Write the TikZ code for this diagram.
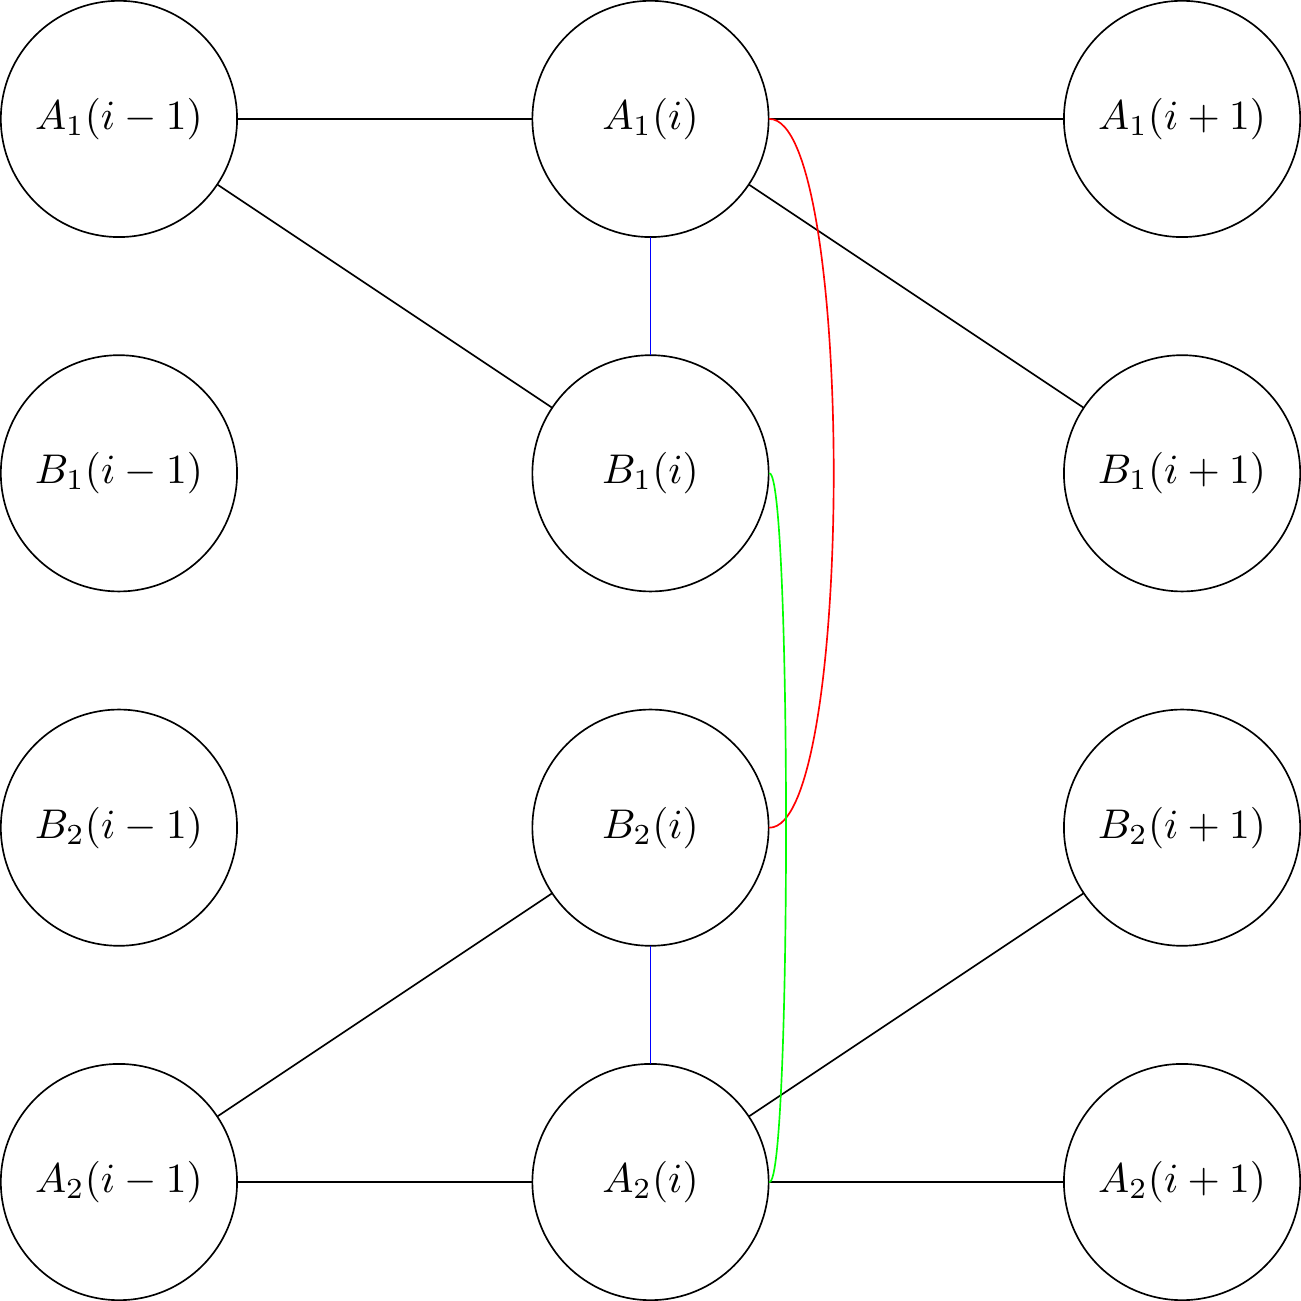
\documentclass[tikz,border=0pt]{standalone}
\usetikzlibrary{positioning}

\tikzset{
  site/.style={draw, circle, minimum size=2cm, inner sep=0pt},
  bond/.style={black},
}

\begin{document}
\begin{tikzpicture}[line cap=round, line join=round]

% -----------------------
% Parameters
% -----------------------
\def\dx{4.5}   % horizontal spacing of columns
\def\dy{3}     % vertical spacing of rows

% -----------------------
% Sites: columns i-1, i, i+1
% -----------------------
\foreach \c/\lab/\k in {m/i-1/0, c/i/1, p/i+1/2}{
  \node[site] (A1\c) at (\k*\dx, 3*\dy) {$A_1(\lab)$};
  \node[site] (B1\c) at (\k*\dx, 2*\dy) {$B_1(\lab)$};
  \node[site] (B2\c) at (\k*\dx, 1*\dy) {$B_2(\lab)$};
  \node[site] (A2\c) at (\k*\dx, 0)     {$A_2(\lab)$};
}

% -----------------------
% Chain bonds
% -----------------------
\draw[bond] (A1m) -- (A1c);
\draw[bond] (A1c) -- (A1p);
\draw[bond] (A1m) -- (B1c);
\draw[bond] (A1c) -- (B1p);

\draw[bond] (A2m) -- (A2c);
\draw[bond] (A2c) -- (A2p);
\draw[bond] (A2m) -- (B2c);
\draw[bond] (A2c) -- (B2p);

% rungs inside column i
\draw[blue] (A1c) -- (B1c);
\draw[blue] (B2c) -- (A2c);

% -----------------------
% Long-range couplings
% -----------------------
\draw[red]   (A1c.east) to[out=0, in=0, looseness=0.31] (B2c.east);
\draw[green] (B1c.east) to[out=0, in=0, looseness=0.08] (A2c.east);

\end{tikzpicture}
\end{document}
